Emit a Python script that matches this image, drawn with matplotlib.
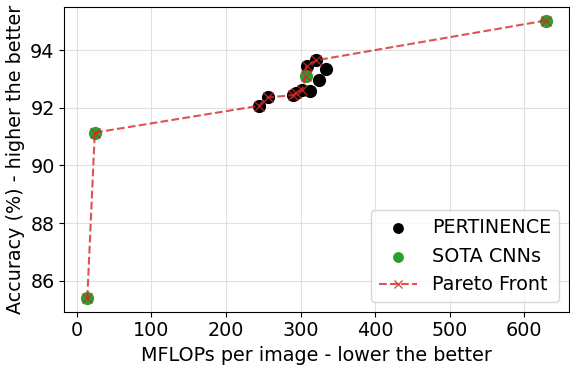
import numpy as np
import matplotlib.pyplot as plt

# PERTINENCE configurations
pert_mflops = [244, 256, 290, 294, 302, 312, 308, 321, 334, 325]
pert_acc = [92.07, 92.36, 92.44, 92.52, 92.61, 92.60, 93.46, 93.65, 93.34, 92.98]

# SOTA CNNs
sota_mflops = [14, 24, 307, 629]
sota_acc = [85.41, 91.14, 93.11, 95.03]

# Pareto front
pareto_mflops = [14, 24, 244, 256, 290, 294, 302, 307, 308, 321, 629]
pareto_acc = [85.41, 91.14, 92.07, 92.36, 92.44, 92.52, 92.61, 93.11, 93.46, 93.65, 95.03]

plt.rcParams['font.size'] = 13.8

fig, ax = plt.subplots(figsize=(5.7, 3.7), dpi=100)
ax.scatter(pert_mflops, pert_acc, s=72, color='black', label='PERTINENCE', zorder=2)
ax.scatter(sota_mflops, sota_acc, s=72, color='tab:green', label='SOTA CNNs', zorder=3)
ax.plot(pareto_mflops, pareto_acc, '--x', color='tab:red', alpha=0.8,
        markersize=7, label='Pareto Front', zorder=4)

ax.set_xlabel('MFLOPs per image - lower the better')
ax.set_ylabel('Accuracy (%) - higher the better')
ax.set_yticks([86, 88, 90, 92, 94])
ax.grid(color='#e0e0e0', zorder=0)
ax.set_axisbelow(True)
ax.legend(loc='lower right', markerscale=0.8)

fig.subplots_adjust(left=0.113, right=0.998, top=0.982, bottom=0.158)
plt.savefig('out.png')
